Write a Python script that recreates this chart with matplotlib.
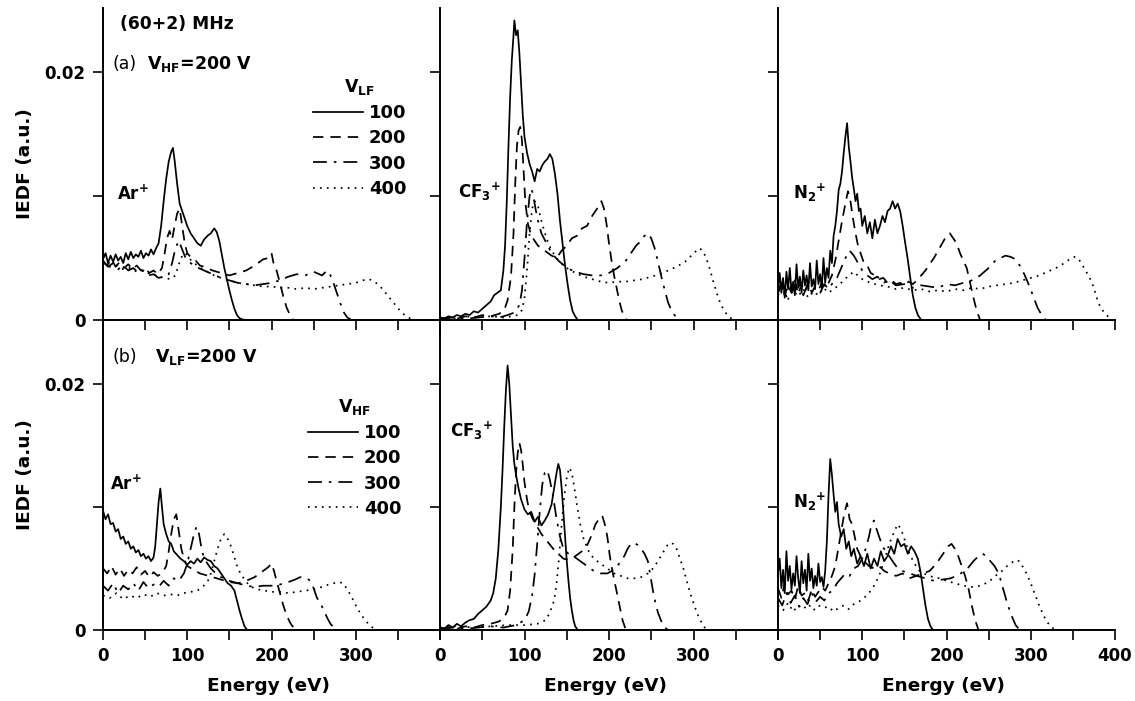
import matplotlib
matplotlib.use('Agg')
import matplotlib.pyplot as plt

plt.rcParams['font.family'] = ['DejaVu Sans']
plt.rcParams['font.weight'] = 'bold'
plt.rcParams['axes.labelweight'] = 'bold'

# energies in eV, IEDF values in units of 1e-3
# (a) V_HF = 200 V, V_LF varies
ar_a_e100 = [0,3,6,9,12,15,18,21,24,27,30,33,36,39,42,45,48,51,54,57,60,63,66,69,72,75,78,81,83,85,88,91,94,97,100,104,108,112,116,120,124,128,132,135,138,141,144,147,150,153,156,159,162,166,172]
ar_a_v100 = [4.9,5.4,4.6,5.2,4.7,5.3,4.8,5.1,4.6,5.4,4.9,5.5,5.0,5.3,5.1,5.6,5.0,5.4,5.2,5.7,5.3,5.8,6.2,7.6,9.6,11.4,12.8,13.6,13.9,12.9,11.0,9.4,8.8,8.2,7.6,7.0,6.6,6.2,6.0,6.5,6.8,7.0,7.4,7.1,6.4,5.3,4.2,3.3,2.4,1.6,0.9,0.4,0.15,0.03,0.0]
ar_a_e200 = [0,5,10,15,20,25,30,35,40,45,50,55,60,65,70,73,76,79,82,85,88,91,94,97,100,105,110,115,120,130,140,150,160,170,180,190,196,200,203,206,210,214,218,222,226]
ar_a_v200 = [4.8,4.4,4.9,4.3,4.7,4.2,4.5,4.1,4.4,4.0,4.2,3.8,4.0,3.7,4.2,5.3,6.6,7.2,6.5,7.6,8.6,9.0,7.6,6.2,5.4,5.0,4.8,4.4,4.3,4.0,3.8,3.6,3.8,4.0,4.4,4.9,5.0,5.4,4.4,4.0,3.0,1.9,1.0,0.4,0.0]
ar_a_e300 = [0,6,12,18,24,30,36,42,48,54,60,66,72,78,82,86,90,94,98,104,110,120,130,140,150,160,170,180,190,200,210,220,230,240,250,260,266,270,274,278,282,286,290,295]
ar_a_v300 = [4.7,4.3,4.6,4.1,4.4,4.0,4.2,3.8,4.0,3.6,3.7,3.4,3.5,3.7,4.6,5.8,6.4,5.7,5.0,4.6,4.3,4.0,3.7,3.4,3.2,3.0,2.9,2.8,2.9,3.0,3.2,3.5,3.7,3.6,3.9,3.6,4.0,3.6,2.9,2.1,1.3,0.6,0.2,0.0]
ar_a_e400 = [0,8,16,24,32,40,48,56,64,72,80,86,90,94,98,102,108,116,124,132,140,150,160,170,180,190,200,210,220,230,240,250,260,270,280,290,300,308,316,322,328,334,340,346,352,358,364,370]
ar_a_v400 = [4.6,4.3,4.4,4.1,4.2,3.9,4.0,3.7,3.6,3.4,3.3,3.6,4.5,5.2,5.4,5.0,4.6,4.2,3.9,3.6,3.4,3.2,3.0,2.9,2.8,2.7,2.7,2.6,2.6,2.5,2.6,2.5,2.6,2.7,2.8,2.9,3.0,3.2,3.3,3.1,2.8,2.3,1.8,1.3,0.8,0.4,0.15,0.0]

cf_a_e100 = [0,5,10,15,20,25,30,35,40,45,50,55,60,64,68,72,75,77,79,81,83,85,87,88,90,92,94,96,98,100,103,106,109,112,115,118,121,124,127,130,133,136,139,142,145,148,151,154,157,160,163]
cf_a_v100 = [0.2,0.1,0.3,0.2,0.4,0.3,0.5,0.4,0.7,0.6,0.9,1.2,1.5,2.0,2.2,2.4,4.0,6.0,9.5,14.0,18.0,21.0,23.0,24.2,23.0,23.4,21.5,19.0,16.5,14.8,13.5,12.6,12.0,11.2,12.2,12.0,12.5,12.8,13.0,13.4,13.0,11.8,10.2,8.0,6.2,4.4,2.9,1.6,0.7,0.3,0.0]
cf_a_e200 = [0,10,20,30,40,50,60,70,76,80,84,87,89,91,93,95,97,99,101,104,108,112,116,120,126,132,138,144,150,156,162,168,174,180,184,188,191,194,197,200,203,206,209,212,215,218,221]
cf_a_v200 = [0.1,0.2,0.1,0.3,0.2,0.4,0.3,0.5,0.8,1.6,3.5,7.0,11.0,14.0,15.3,15.6,14.5,12.0,9.5,7.8,6.8,6.4,6.0,5.8,5.5,5.2,5.0,5.6,6.0,6.6,6.8,7.4,7.6,8.4,8.8,9.2,9.6,9.0,7.8,6.2,4.8,3.6,2.6,1.6,0.8,0.3,0.0]
cf_a_e300 = [0,15,30,45,60,70,80,88,94,97,100,103,106,108,110,113,116,120,126,132,140,150,160,170,180,190,200,210,220,226,232,238,242,246,250,254,258,262,266,270,275,280,285]
cf_a_v300 = [0.1,0.2,0.1,0.2,0.3,0.2,0.4,0.6,1.2,2.4,5.0,8.0,10.0,10.6,10.2,9.0,8.0,7.0,6.2,5.4,4.8,4.2,3.9,3.7,3.6,3.6,3.8,4.2,4.8,5.4,6.0,6.4,6.8,7.0,6.6,5.8,4.7,3.5,2.4,1.4,0.6,0.2,0.0]
cf_a_e400 = [0,15,30,45,60,75,85,92,97,100,103,106,109,112,116,120,126,132,140,150,160,170,180,190,200,210,220,230,240,250,260,270,280,290,296,302,307,311,315,319,323,327,331,335,339,343,348]
cf_a_v400 = [0.2,0.1,0.3,0.2,0.3,0.2,0.3,0.4,0.8,1.8,4.0,7.0,9.0,9.6,9.2,8.0,6.6,5.6,4.8,4.2,3.8,3.5,3.3,3.1,3.0,3.1,3.1,3.2,3.3,3.5,3.7,4.0,4.3,4.7,5.1,5.5,5.8,5.6,5.0,4.2,3.2,2.3,1.5,0.9,0.5,0.2,0.0]

n2_a_e100 = [0,2,4,6,8,10,12,14,16,18,20,22,24,26,28,30,32,34,36,38,40,42,44,46,48,50,52,54,56,58,60,62,64,66,68,70,72,74,76,78,80,82,84,86,88,90,92,94,96,98,100,103,106,109,112,115,118,121,124,127,130,133,136,139,142,145,148,151,154,157,160,163,166,170]
n2_a_v100 = [2.6,3.8,2.2,3.4,1.8,3.9,2.5,4.2,2.3,3.1,2.0,4.5,2.6,3.5,2.2,4.0,2.8,3.6,2.4,4.6,2.7,3.3,2.5,4.8,2.9,3.7,2.6,5.0,3.0,4.2,3.4,5.6,4.6,6.8,7.6,8.8,10.5,11.0,12.0,13.5,14.8,15.9,14.0,12.8,11.5,10.6,9.6,10.2,8.8,9.0,7.6,8.4,7.0,7.9,6.6,8.1,7.0,7.6,8.4,7.9,8.8,9.0,9.6,9.0,9.4,8.8,7.6,6.2,4.9,3.4,2.0,1.0,0.4,0.0]
n2_a_e200 = [0,4,8,12,16,20,24,28,32,36,40,44,48,52,56,60,64,68,72,76,80,83,86,89,92,95,98,102,106,110,115,120,125,130,135,140,145,150,155,160,165,170,175,180,185,190,195,200,204,208,212,216,220,224,228,232,236,240]
n2_a_v200 = [2.4,3.0,2.0,2.8,2.2,3.2,2.1,2.9,2.3,3.1,2.2,2.7,2.4,3.0,2.6,3.0,3.6,4.8,6.4,8.0,9.4,10.4,9.6,8.2,7.0,6.0,5.4,4.6,4.4,3.8,3.6,3.3,3.4,3.0,3.2,2.9,3.0,2.8,3.1,2.9,3.2,3.6,4.0,4.5,5.0,5.6,6.2,6.8,7.0,6.6,6.2,5.4,4.8,4.2,3.0,1.8,0.7,0.0]
n2_a_e300 = [0,5,10,15,20,25,30,35,40,45,50,55,60,65,70,75,80,85,90,95,100,106,112,118,125,132,140,150,160,170,180,190,200,210,220,230,240,250,258,264,270,276,282,288,293,298,303,308,313,318]
n2_a_v300 = [2.2,2.9,1.9,2.7,2.3,3.0,2.0,2.8,2.4,2.6,2.2,2.9,2.5,3.0,3.4,4.2,5.0,5.6,5.2,4.6,4.0,3.6,3.3,3.5,3.0,3.2,2.8,2.9,2.6,2.8,2.7,2.6,2.9,2.8,3.0,3.2,3.6,4.2,4.8,5.0,5.2,5.1,4.9,4.3,3.6,2.8,1.9,1.0,0.4,0.0]
n2_a_e400 = [0,6,12,18,24,30,36,42,48,54,60,66,72,78,84,90,96,102,110,120,130,140,150,160,170,180,190,200,210,220,230,240,250,260,270,280,290,300,310,320,330,340,346,352,356,360,365,370,375,380,385,390,396]
n2_a_v400 = [2.0,2.6,1.7,2.4,1.9,2.5,1.8,2.3,2.0,2.6,2.2,2.5,2.8,3.2,3.6,3.9,3.5,3.2,3.0,2.8,2.7,2.5,2.6,2.4,2.5,2.3,2.4,2.3,2.5,2.4,2.6,2.5,2.7,2.8,2.9,3.0,3.2,3.4,3.6,3.9,4.2,4.6,4.9,5.1,5.0,4.6,4.0,3.4,2.6,1.4,0.8,0.4,0.0]

# (b) V_LF = 200 V, V_HF varies
ar_b_e100 = [0,3,6,9,12,15,18,21,24,27,30,33,36,39,42,45,48,51,54,57,60,62,64,66,68,70,72,75,78,81,84,88,92,96,100,104,108,112,116,120,124,128,132,136,140,144,148,152,156,159,162,165,168,171]
ar_b_v100 = [9.7,9.0,9.4,8.6,8.7,8.0,8.2,7.4,7.6,7.0,7.2,6.6,6.8,6.3,6.5,6.0,6.2,5.8,6.0,5.6,5.9,6.8,8.6,10.4,11.5,10.0,8.6,7.8,7.2,7.0,6.4,6.1,5.8,5.6,5.3,5.6,5.4,5.8,5.5,5.9,5.7,5.6,5.2,5.0,4.6,4.2,3.8,3.6,3.2,2.4,1.6,0.9,0.3,0.0]
ar_b_e200 = [0,5,10,15,20,25,30,35,40,45,50,55,60,65,70,75,78,81,84,87,90,93,96,100,105,110,115,120,130,140,150,160,170,180,190,196,200,203,206,210,214,218,222,226,230]
ar_b_v200 = [5.0,4.6,5.2,4.5,5.0,4.4,4.9,4.6,5.1,4.5,4.8,4.3,4.7,4.4,4.6,5.2,6.4,7.8,9.0,9.4,8.0,6.6,5.8,5.2,5.0,4.8,4.6,4.5,4.3,4.1,3.9,3.8,4.0,4.3,4.8,5.1,5.4,4.8,4.0,3.0,2.0,1.2,0.6,0.2,0.0]
ar_b_e300 = [0,6,12,18,24,30,36,42,48,54,60,66,72,78,84,90,96,100,104,108,111,114,117,120,124,128,134,140,150,160,170,180,190,200,210,220,228,234,238,242,246,250,254,258,262,266,270,274,278]
ar_b_v300 = [3.6,3.2,3.8,3.0,3.6,3.3,3.8,3.2,3.9,3.4,3.7,3.5,4.0,3.6,4.2,4.0,4.6,5.4,6.6,7.8,8.4,7.8,6.6,5.8,5.4,5.0,4.6,4.3,4.0,3.8,3.6,3.5,3.6,3.6,3.7,3.9,4.1,4.3,4.2,4.2,4.0,3.4,2.6,2.2,1.6,1.0,0.5,0.2,0.0]
ar_b_e400 = [0,8,16,24,32,40,48,56,64,72,80,88,96,104,112,118,124,128,132,136,140,144,148,152,156,160,165,170,176,184,192,200,210,220,230,240,250,260,268,274,280,285,290,295,300,305,310,315,320,324]
ar_b_v400 = [2.8,2.6,3.0,2.5,2.8,2.6,2.9,2.7,3.0,2.8,2.9,2.8,3.0,3.1,3.2,3.5,3.9,4.6,5.6,6.6,7.4,7.8,7.4,6.8,5.9,5.0,4.4,3.9,3.5,3.3,3.2,3.1,3.1,3.0,3.1,3.2,3.3,3.5,3.7,3.8,3.9,3.8,3.3,2.7,2.0,1.4,0.9,0.5,0.2,0.0]

cf_b_e100 = [0,5,10,15,20,25,30,35,40,45,50,55,60,63,66,69,72,74,76,78,80,82,84,86,88,90,93,96,100,104,108,112,116,120,124,128,132,135,138,140,142,144,146,148,150,152,154,156,158,160,163]
cf_b_v100 = [0.2,0.1,0.4,0.2,0.5,0.3,0.6,0.8,0.9,1.3,1.6,1.9,2.4,3.0,4.2,6.5,10.0,13.0,16.5,19.5,21.5,20.0,17.5,15.0,13.5,12.6,11.5,10.6,9.8,9.4,9.6,8.8,9.2,8.5,8.9,9.4,10.2,11.5,12.8,13.5,13.0,11.5,9.6,7.6,5.6,4.0,2.6,1.6,0.8,0.3,0.0]
cf_b_e200 = [0,10,20,30,40,50,60,70,76,80,83,86,88,90,92,94,96,98,100,103,106,110,115,120,127,134,140,146,152,158,164,170,175,180,184,188,192,195,198,201,204,207,210,213,216,220]
cf_b_v200 = [0.1,0.2,0.1,0.3,0.2,0.4,0.5,0.7,1.0,1.6,3.2,6.5,10.0,12.8,14.4,15.2,14.6,13.4,12.0,10.6,9.6,9.0,8.4,7.8,7.2,6.6,6.2,5.8,5.7,5.9,6.2,6.5,7.0,7.8,8.6,9.0,9.3,8.6,7.6,6.0,4.8,3.8,2.8,1.8,0.8,0.0]
cf_b_e300 = [0,15,30,45,60,75,90,100,105,109,112,115,118,121,124,127,130,134,138,142,146,152,158,166,174,182,190,198,206,212,218,222,226,230,234,238,242,246,249,252,255,258,262,266,270]
cf_b_v300 = [0.1,0.2,0.1,0.2,0.3,0.2,0.4,0.8,1.5,2.8,4.5,7.0,9.6,11.8,12.8,13.0,12.2,10.8,9.0,7.6,6.6,6.2,6.0,5.6,5.2,4.8,4.6,4.6,4.9,5.4,6.0,6.6,7.0,7.1,6.9,6.6,6.2,5.6,4.4,3.2,2.2,1.4,0.7,0.2,0.0]
cf_b_e400 = [0,20,40,60,80,100,115,125,130,135,138,141,144,147,150,153,156,159,162,166,170,176,182,190,198,206,214,222,230,238,246,252,258,264,268,272,276,280,284,288,292,296,300,304,308,312,316]
cf_b_v400 = [0.2,0.3,0.2,0.3,0.4,0.4,0.5,0.8,1.4,2.4,3.8,6.0,8.6,10.8,12.4,13.2,12.8,11.6,10.2,8.6,7.4,6.4,5.8,5.4,5.0,4.6,4.4,4.2,4.2,4.3,4.6,5.0,5.6,6.3,6.8,7.1,7.0,6.6,5.8,5.0,4.0,3.0,2.2,1.4,0.8,0.3,0.0]

n2_b_e100 = [0,2,4,6,8,10,12,14,16,18,20,22,24,26,28,30,32,34,36,38,40,42,44,46,48,50,52,54,56,58,60,62,64,66,68,70,72,75,78,81,84,87,90,94,98,102,106,110,114,118,122,126,130,134,138,142,146,150,154,158,162,166,169,172,175,178,181,184]
n2_b_v100 = [4.6,5.8,3.4,4.9,3.0,6.4,4.0,5.2,3.3,4.6,3.6,6.0,4.2,3.0,5.6,3.8,4.9,3.2,6.2,4.0,5.0,3.4,4.4,3.6,5.4,3.9,4.3,3.5,4.8,7.2,11.0,13.9,12.6,11.0,9.6,10.4,8.6,7.6,8.2,6.6,7.2,6.0,6.6,5.4,6.0,5.2,6.2,5.0,5.8,5.2,6.4,5.6,6.0,6.8,6.2,7.4,6.8,7.0,6.2,6.8,6.4,5.8,4.8,3.4,2.0,0.9,0.3,0.0]
n2_b_e200 = [0,4,8,12,16,20,24,28,32,36,40,44,48,52,56,60,64,68,72,76,79,82,85,88,91,94,98,102,108,114,120,126,132,140,148,156,164,172,180,188,196,202,206,210,214,218,222,226,230,234,238]
n2_b_v200 = [3.4,2.6,3.8,2.9,3.2,2.5,3.6,2.8,3.0,2.4,3.3,2.7,3.1,3.5,3.2,3.8,4.4,5.2,6.8,8.4,9.6,10.3,9.0,8.6,7.6,6.6,6.0,5.6,5.2,5.0,5.2,4.8,4.6,4.4,4.6,4.2,4.4,4.6,4.8,5.4,6.2,6.8,7.0,6.6,6.0,5.2,4.4,3.4,2.0,0.8,0.0]
n2_b_e300 = [0,5,10,15,20,25,30,35,40,45,50,55,60,65,70,75,80,85,90,95,100,104,108,111,114,117,120,124,128,134,140,148,156,165,175,185,195,205,215,225,232,238,243,247,252,257,262,267,272,277,282,287]
n2_b_v300 = [2.6,2.0,3.0,2.2,2.8,1.9,2.6,2.1,3.0,2.3,2.7,2.4,3.0,3.2,3.8,4.2,4.6,4.4,5.0,5.2,5.8,6.6,7.6,8.6,8.9,8.2,7.6,6.8,6.4,5.8,5.2,4.8,4.6,4.4,4.2,4.0,4.1,4.2,4.5,5.0,5.6,6.0,6.2,6.0,5.6,5.2,4.6,3.4,2.2,1.2,0.4,0.0]
n2_b_e400 = [0,6,12,18,24,30,36,42,48,54,60,66,72,78,84,90,96,102,108,114,120,126,132,138,142,146,150,156,162,168,176,184,192,200,210,220,230,240,250,258,266,272,278,282,286,290,295,300,305,310,315,320,325,330]
n2_b_v400 = [2.0,1.6,2.2,1.5,2.0,1.7,2.1,1.6,2.0,1.8,1.9,1.5,1.8,2.0,1.7,2.1,2.3,2.6,3.0,3.6,4.4,5.6,7.0,8.0,8.6,8.2,7.4,6.2,5.4,4.8,4.5,4.3,4.2,4.0,3.8,3.6,3.5,3.6,3.9,4.4,4.8,5.2,5.5,5.7,5.6,5.2,4.6,3.8,2.9,2.0,1.2,0.6,0.2,0.0]

volt_labels = ['100', '200', '300', '400']
ion_labels = ['Ar$^\\mathregular{+}$',
              'CF$_\\mathregular{3}$$^\\mathregular{+}$',
              'N$_\\mathregular{2}$$^\\mathregular{+}$']

panels = [
    [[(ar_a_e100, ar_a_v100), (ar_a_e200, ar_a_v200), (ar_a_e300, ar_a_v300), (ar_a_e400, ar_a_v400)],
     [(cf_a_e100, cf_a_v100), (cf_a_e200, cf_a_v200), (cf_a_e300, cf_a_v300), (cf_a_e400, cf_a_v400)],
     [(n2_a_e100, n2_a_v100), (n2_a_e200, n2_a_v200), (n2_a_e300, n2_a_v300), (n2_a_e400, n2_a_v400)]],
    [[(ar_b_e100, ar_b_v100), (ar_b_e200, ar_b_v200), (ar_b_e300, ar_b_v300), (ar_b_e400, ar_b_v400)],
     [(cf_b_e100, cf_b_v100), (cf_b_e200, cf_b_v200), (cf_b_e300, cf_b_v300), (cf_b_e400, cf_b_v400)],
     [(n2_b_e100, n2_b_v100), (n2_b_e200, n2_b_v200), (n2_b_e300, n2_b_v300), (n2_b_e400, n2_b_v400)]],
]

styles = ['-', (0, (6, 4)), (0, (8, 4, 1.5, 4)), (0, (1, 3))]

W, H = 1135, 701
fig = plt.figure(figsize=(W / 100, H / 100), dpi=100)

cols = [(103, 440), (440, 778), (778, 1115)]
rows = [(8, 320), (320, 630)]

def ftxt(x, y, s, **kw):
    fig.text(x / W, 1 - y / H, s, **kw)

# ion label positions (pixels, baseline)
ion_pos = [[(117, 200), (458, 198), (793, 199)],
           [(110, 490), (450, 437), (793, 508)]]

for r, (yt, yb) in enumerate(rows):
    for c, (x0, x1) in enumerate(cols):
        ax = fig.add_axes([x0 / W, 1 - yb / H, (x1 - x0) / W, (yb - yt) / H])
        ax.patch.set_visible(False)
        lines = []
        for (e, v), ls in zip(panels[r][c], styles):
            ln, = ax.plot(e, [y * 1e-3 for y in v], color='black', lw=1.25, linestyle=ls)
            lines.append(ln)
        ax.set_xlim(0, 400)
        ax.set_ylim(0, 0.0252)
        ax.spines['top'].set_visible(False)
        ax.spines['right'].set_visible(False)
        ax.spines['left'].set_linewidth(1.4)
        ax.spines['bottom'].set_linewidth(1.4)
        ax.set_xticks(range(0, 401, 50))
        xl = ['0', '', '100', '', '200', '', '300', '', '400' if c == 2 else '']
        ax.set_xticklabels(xl)
        ax.set_yticks([0, 0.01, 0.02])
        ax.set_yticklabels(['0', '', '0.02'])
        ax.tick_params(direction='out', length=7.5, width=1.2, labelsize=12, pad=5)
        ax.tick_params(axis='x', labelbottom=(r == 1))
        ax.tick_params(axis='y', labelleft=(c == 0))
        px, py = ion_pos[r][c]
        ftxt(px, py, ion_labels[c], fontsize=12, va='baseline')
        if c == 0:
            title = 'V$_\\mathregular{LF}$' if r == 0 else 'V$_\\mathregular{HF}$'
            anchor = (0.623, 0.779) if r == 0 else (0.608, 0.752)
            ax.legend(lines, volt_labels, title=title, loc='upper left',
                      bbox_to_anchor=anchor, frameon=False, handlelength=2.75,
                      handletextpad=0.35, labelspacing=0.4, borderpad=0,
                      borderaxespad=0, prop={'weight': 'bold', 'size': 13},
                      title_fontproperties={'weight': 'bold', 'size': 12.5})
        if r == 1:
            ftxt((x0 + x1) / 2 - 3, 686, 'Energy (eV)', fontsize=13.3, ha='center', va='center')
    ftxt(25, (yt + yb) / 2, 'IEDF (a.u.)', fontsize=13.3, rotation=90, ha='center', va='center')

ftxt(120, 29, '(60+2) MHz', fontsize=12.3, va='baseline')
ftxt(112, 69, '(a)', fontsize=12.5, fontweight='normal', va='baseline')
ftxt(147, 69, 'V$_\\mathregular{HF}$=200 V', fontsize=12.5, va='baseline')
ftxt(113, 362, '(b)', fontsize=12.5, fontweight='normal', va='baseline')
ftxt(155, 362, 'V$_\\mathregular{LF}$=200 V', fontsize=12.5, va='baseline')

fig.savefig('out.png', dpi=100)
